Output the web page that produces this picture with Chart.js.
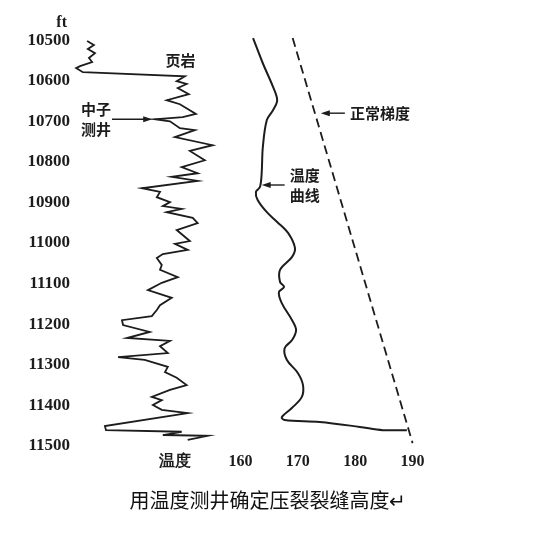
<!DOCTYPE html>
<html><head><meta charset="utf-8">
<script src="https://cdn.jsdelivr.net/npm/chart.js@4/dist/chart.umd.min.js"></script>
<style>html,body{margin:0;padding:0;background:#fff}#wrap{width:536px;height:536px;position:relative}</style>
</head><body><div id="wrap"><canvas id="c"></canvas></div>
<script>
// ---- data ----
const depthTicks = [10500,10600,10700,10800,10900,11000,11100,11200,11300,11400,11500];
const depthUnit = 'ft';
const tempTicks = [160,170,180,190];
const tempAxisLabel = '温度';
const tempAxisLabelAt = 148.6;

// neutron log (arbitrary units) vs depth (ft)
const neutronDepth = [10502,10512,10522,10532,10544,10554,10564,10569,10579,10589,
  10601,10608,10618,10633,10648,10658,10682,10690,10692,10695,
  10700,10717,10722,10739,10759,10773,10796,10813,10828,10837,
  10847,10865,10874,10887,10899,10909,10916,10924,10938,10951,
  10968,10995,11002,11017,11027,11037,11054,11066,11084,11098,
  11116,11135,11153,11165,11180,11190,11202,11219,11234,11241,
  11254,11271,11281,11288,11305,11318,11332,11350,11362,11379,
  11387,11399,11411,11419,11451,11461,11465,11473,11475,11485];
const neutronValue = [3.7,5.6,3.9,5.9,4.2,5.1,1.7,0.6,2.5,31.2,
  28.9,31.7,29.2,32.3,26.1,29.8,34.3,30.6,27.0,22.8,
  27.0,29.8,34.0,28.4,39.0,32.6,36.8,30.3,34.8,27.5,
  34.8,19.1,24.2,23.3,27.0,25.0,30.3,26.1,33.4,34.8,
  28.9,32.6,28.4,32.0,25.0,23.3,24.7,24.2,29.2,24.7,
  20.8,27.5,24.2,23.3,21.9,13.5,13.8,21.3,14.9,27.0,
  24.2,26.4,12.4,19.9,26.4,25.6,28.9,31.7,27.0,21.9,
  24.7,22.2,24.7,32.0,8.7,9.0,30.3,25.0,37.6,32.0];

// temperature log (°F) vs depth (ft)
const tempDepth = [10495,10557,10616,10648,10672,10697,10764,10828,10862,10874,
  10894,10924,10948,10975,11012,11034,11066,11096,11108,11121,
  11148,11190,11214,11239,11259,11288,11320,11350,11379,11406,
  11429,11436,11441,11453,11461,11461];
const tempValue = [162.2,163.9,165.7,166.4,165.7,164.6,163.9,163.7,163.4,162.7,
  163.0,164.6,166.4,168.3,169.5,169.0,166.9,166.9,167.6,166.7,
  167.2,169.0,169.7,169.0,167.7,168.1,170.0,170.9,170.7,169.0,
  167.2,167.7,173.8,180.8,184.8,189.0];

// normal geothermal gradient
const gradientDepth = [10495, 11493];
const gradientTemp = [169.1, 190.0];

const caption = '用温度测井确定压裂裂缝高度↵';

// ---- chart ----
const serif = "'Liberation Serif','DejaVu Serif',serif";
const cjk = "'Noto Sans CJK SC','Noto Sans',sans-serif";
const ink = '#1c1c1c';

const notes = [
  {lines:['页岩'], axis:'xn', x:30, y:10549},
  {lines:['中子','测井'], axis:'xn', x:6.2, y:10695, arrowFrom:10.7, arrowTo:22.0},
  {lines:['温度','曲线'], axis:'x', x:171.2, y:10857, arrowFrom:167.7, arrowTo:163.7},
  {lines:['正常梯度'], axis:'x', x:184.3, y:10680, arrowFrom:178.2, arrowTo:174.0}
];

const notePlugin = {
  id:'notes',
  afterDatasetsDraw(chart){
    const ctx = chart.ctx, ys = chart.scales.y;
    ctx.save();
    ctx.fillStyle = ink; ctx.strokeStyle = ink;
    ctx.font = "bold 15px " + cjk;
    ctx.textAlign = 'center'; ctx.textBaseline = 'middle';
    for (const n of notes){
      const xs = chart.scales[n.axis];
      const cx = xs.getPixelForValue(n.x), cy = ys.getPixelForValue(n.y);
      const h = 20;
      n.lines.forEach((t,i)=>{
        ctx.fillText(t, cx, cy + (i - (n.lines.length-1)/2)*h);
      });
      if (n.arrowFrom !== undefined){
        const x1 = xs.getPixelForValue(n.arrowFrom), x2 = xs.getPixelForValue(n.arrowTo);
        const dir = Math.sign(x2 - x1);
        ctx.lineWidth = 1.4;
        ctx.beginPath(); ctx.moveTo(x1, cy); ctx.lineTo(x2 - dir*6, cy); ctx.stroke();
        ctx.beginPath(); ctx.moveTo(x2, cy); ctx.lineTo(x2 - dir*9, cy-3); ctx.lineTo(x2 - dir*9, cy+3); ctx.closePath(); ctx.fill();
      }
    }
    // unit label above depth axis
    ctx.font = "bold 16px " + serif;
    ctx.textAlign = 'right';
    ctx.fillText(depthUnit, 67, ys.getPixelForValue(depthTicks[0]) - 17);
    ctx.restore();
  }
};

new Chart(document.getElementById('c'), {
  type:'scatter',
  data:{datasets:[
    {label:'中子测井', xAxisID:'xn', data: neutronDepth.map((d,i)=>({x:neutronValue[i], y:d})),
     showLine:true, pointRadius:0, borderColor:ink, borderWidth:1.8, tension:0},
    {label:'温度曲线', xAxisID:'x', data: tempDepth.map((d,i)=>({x:tempValue[i], y:d})),
     showLine:true, pointRadius:0, borderColor:ink, borderWidth:2, tension:0.35},
    {label:'正常梯度', xAxisID:'x', data: gradientDepth.map((d,i)=>({x:gradientTemp[i], y:d})),
     showLine:true, pointRadius:0, borderColor:ink, borderWidth:1.8, borderDash:[9,5], tension:0}
  ]},
  options:{
    responsive:true, maintainAspectRatio:false, animation:false,
    layout:{padding:{left:0,right:0,top:32,bottom:16}},
    plugins:{
      legend:{display:false}, tooltip:{enabled:false},
      title:{display:true, position:'bottom', text:caption, color:'#111',
        font:{family:cjk, size:20, weight:'normal'}, padding:{top:14,bottom:8}}
    },
    scales:{
      y:{type:'linear', reverse:true, min:10480, max:11505,
        afterBuildTicks(s){ s.ticks = depthTicks.map(v=>({value:v})); },
        afterFit(s){ s.width = 74; },
        grid:{display:false, drawTicks:false}, border:{display:false},
        ticks:{color:ink, padding:4, font:{family:serif, size:17, weight:'bold'}, callback:v=>String(v)}},
      x:{type:'linear', position:'bottom', min:131, max:211.5,
        afterBuildTicks(s){ s.ticks = [tempAxisLabelAt, ...tempTicks].map(v=>({value:v})); },
        afterFit(s){ s.height = 26; },
        grid:{display:false, drawTicks:false}, border:{display:false},
        ticks:{color:ink, padding:4, maxRotation:0, autoSkip:false,
          font:{family:serif, size:16, weight:'bold'},
          callback:v=> v===tempAxisLabelAt ? tempAxisLabel : String(v)}},
      xn:{type:'linear', display:false, min:0, max:130}
    }
  },
  plugins:[notePlugin]
});
</script>
</body></html>
